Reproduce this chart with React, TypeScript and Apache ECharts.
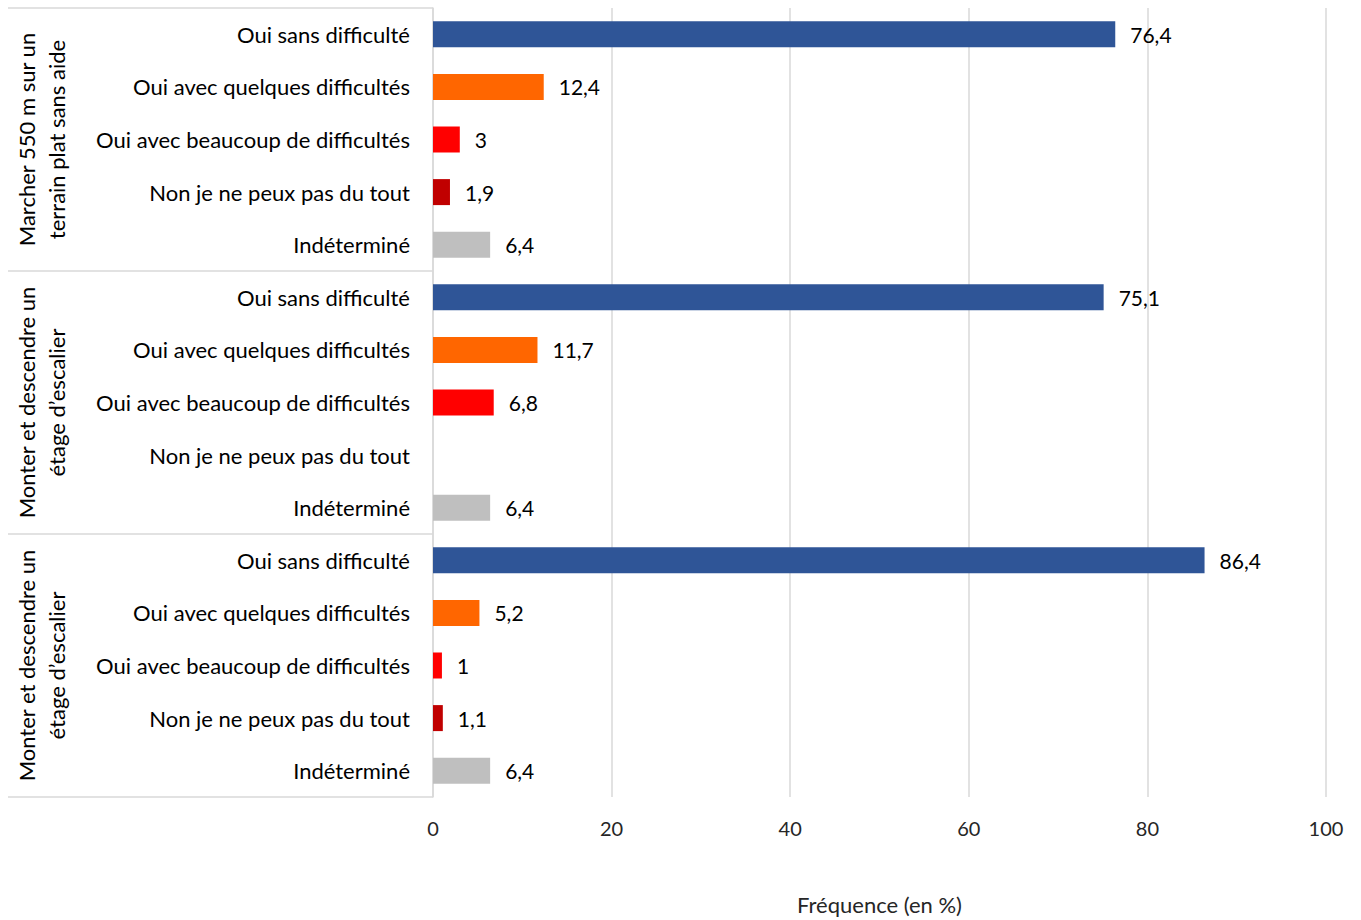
import React, { useEffect, useRef } from "react";
import * as echarts from "echarts";

const groupLabels: string[] = [
  "Marcher 550 m sur un\nterrain plat sans aide",
  "Monter et descendre un\nétage d’escalier",
  "Monter et descendre un\nétage d’escalier",
];
const answerLabels: string[] = [
  "Oui sans difficulté",
  "Oui avec quelques difficultés",
  "Oui avec beaucoup de difficultés",
  "Non je ne peux pas du tout",
  "Indéterminé",
];
const answerColors: string[] = ["#2F5597", "#FF6600", "#FF0000", "#C00000", "#BFBFBF"];
const group1Values: (number | null)[] = [76.4, 12.4, 3, 1.9, 6.4];
const group2Values: (number | null)[] = [75.1, 11.7, 6.8, null, 6.4];
const group3Values: (number | null)[] = [86.4, 5.2, 1, 1.1, 6.4];
const xTicks = { min: 0, max: 100, interval: 20 };
const xTitle = "Fréquence (en %)";

const FONT = "Lato";
const W = 1361;
const H = 920;
const GRID = { left: 433, right: 35, top: 8, bottom: 123 };

export default function App() {
  const ref = useRef<HTMLDivElement>(null);
  useEffect(() => {
    document.body.style.margin = "0";
    if (!ref.current) return;
    const chart = echarts.init(ref.current, null, { renderer: "svg" });
    const groups = [group1Values, group2Values, group3Values];
    const cats: string[] = [];
    const data: any[] = [];
    groups.forEach((vals) => {
      vals.forEach((v, i) => {
        cats.push(answerLabels[i]);
        data.push(
          v === null
            ? { value: null }
            : { value: v, itemStyle: { color: answerColors[i] } }
        );
      });
    });
    const plotTop = GRID.top;
    const plotBottom = H - GRID.bottom;
    const gh = (plotBottom - plotTop) / groups.length;
    const lineStyle = { stroke: "#D9D9D9", lineWidth: 1.5 };
    const graphics: any[] = [];
    for (let g = 0; g <= groups.length; g++) {
      const y = plotTop + g * gh;
      graphics.push({
        type: "line",
        shape: { x1: 8, y1: y, x2: GRID.left, y2: y },
        style: lineStyle,
        silent: true,
      });
    }
    groupLabels.forEach((t, g) => {
      graphics.push({
        type: "text",
        x: 41,
        y: plotTop + (g + 0.5) * gh,
        rotation: Math.PI / 2,
        style: {
          text: t,
          fontFamily: FONT,
          fontSize: 22,
          lineHeight: 30,
          fill: "#000",
          align: "center",
          verticalAlign: "middle",
        },
      });
    });
    chart.setOption({
      animation: false,
      textStyle: { fontFamily: FONT },
      grid: { ...GRID, containLabel: false },
      xAxis: {
        type: "value",
        min: xTicks.min,
        max: xTicks.max,
        interval: xTicks.interval,
        axisLine: { show: false },
        axisTick: { show: false },
        splitLine: { lineStyle: { color: "#D9D9D9", width: 1.5 } },
        axisLabel: { fontSize: 20, color: "#262626", margin: 21, fontFamily: FONT },
        name: xTitle,
        nameLocation: "middle",
        nameGap: 96,
        nameTextStyle: { fontSize: 22, color: "#262626", fontFamily: FONT },
      },
      yAxis: {
        type: "category",
        inverse: true,
        data: cats.map((_, i) => String(i)),
        axisLine: { show: true, lineStyle: { color: "#D9D9D9", width: 1.5 } },
        axisTick: { show: false },
        axisLabel: {
          fontSize: 22,
          color: "#000",
          margin: 23,
          fontFamily: FONT,
          interval: 0,
          formatter: (_v: string, idx: number) => cats[idx],
        },
      },
      series: [
        {
          type: "bar",
          data,
          barWidth: 26,
          label: {
            show: true,
            position: "right",
            distance: 15,
            fontSize: 21,
            color: "#000",
            fontFamily: FONT,
            formatter: (p: any) =>
              p.value === null || p.value === undefined ? "" : String(p.value).replace(".", ","),
          },
        },
      ],
      graphic: graphics,
    });
    return () => chart.dispose();
  }, []);
  return <div ref={ref} style={{ width: W, height: H }} />;
}
